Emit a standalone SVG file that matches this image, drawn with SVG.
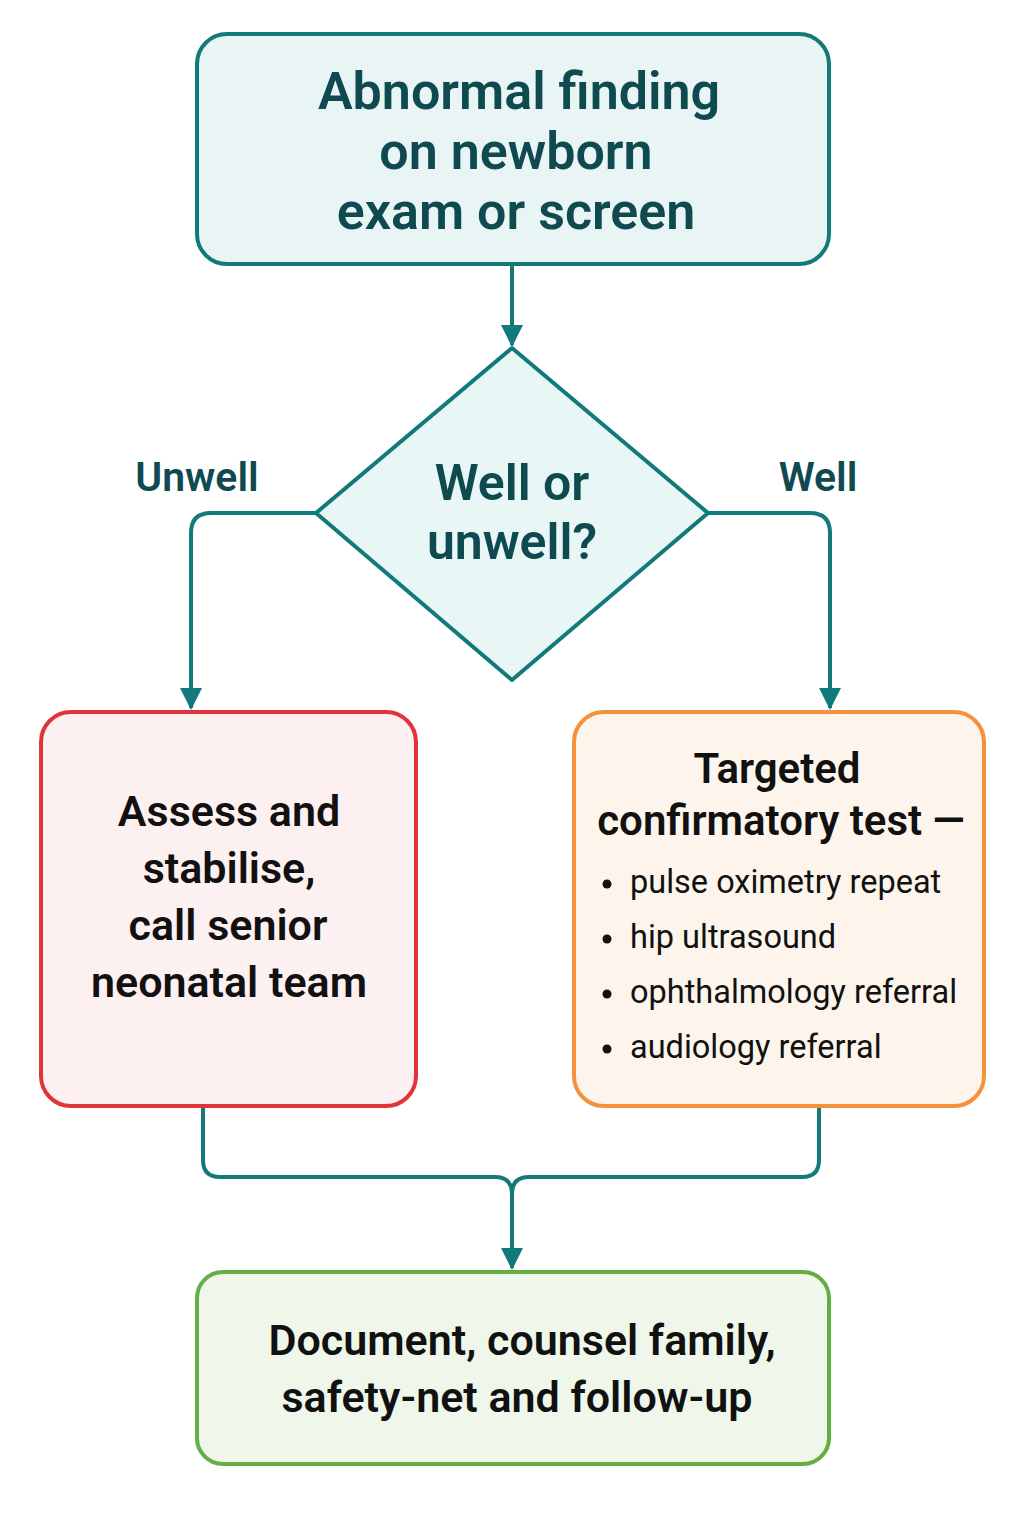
<svg xmlns="http://www.w3.org/2000/svg" width="1024" height="1536" viewBox="0 0 1024 1536">
<defs>
<marker id="ah" markerWidth="22" markerHeight="22" refX="20" refY="11" orient="auto" markerUnits="userSpaceOnUse">
<path d="M0,0 L22,11 L0,22 Z" fill="#137a7c"/>
</marker>
<style>
.conn{fill:none;stroke:#137a7c;stroke-width:4;stroke-linejoin:round}
.t{font-family:Roboto,"Liberation Sans",sans-serif;text-anchor:middle}
.h{font-weight:600;fill:#0f4a50}
.b{font-weight:600;fill:#111}
.l{font-weight:400;fill:#111;text-anchor:start}
</style>
</defs>
<rect width="1024" height="1536" fill="#ffffff"/>
<g id="connectors">
<path class="conn" d="M512,264 L512,345" marker-end="url(#ah)"/>
<path class="conn" d="M316,513 L211,513 Q191,513 191,533 L191,708" marker-end="url(#ah)"/>
<path class="conn" d="M708,513 L810,513 Q830,513 830,533 L830,708" marker-end="url(#ah)"/>
<path class="conn" d="M203,1106 L203,1160 Q203,1177 220,1177 L495,1177 Q512,1177 512,1194"/>
<path class="conn" d="M819,1106 L819,1160 Q819,1177 802,1177 L529,1177 Q512,1177 512,1194 L512,1268" marker-end="url(#ah)"/>
</g>
<g id="start">
<rect x="197" y="34" width="632" height="230" rx="30" fill="#e9f5f5" stroke="#137a7c" stroke-width="4"/>
<text class="t h" font-size="52" x="519" y="109">Abnormal finding</text>
<text class="t h" font-size="52" x="516" y="169">on newborn</text>
<text class="t h" font-size="52" x="516" y="229">exam or screen</text>
</g>
<g id="decision">
<polygon points="512,348 708,513 512,680 316,513" fill="#e8f6f6" stroke="#137a7c" stroke-width="4" stroke-linejoin="round"/>
<text class="t h" font-size="50" x="512" y="500">Well or</text>
<text class="t h" font-size="50" x="512" y="559">unwell?</text>
</g>
<g id="label-unwell">
<text class="t h" font-size="41" x="197" y="491">Unwell</text>
</g>
<g id="label-well">
<text class="t h" font-size="41" x="818" y="491">Well</text>
</g>
<g id="assess">
<rect x="41" y="712" width="375" height="394" rx="30" fill="#fdf0f1" stroke="#e0343a" stroke-width="4"/>
<text class="t b" font-size="43" x="229" y="826">Assess and</text>
<text class="t b" font-size="43" x="229" y="883">stabilise,</text>
<text class="t b" font-size="43" x="228" y="940">call senior</text>
<text class="t b" font-size="43" x="229" y="997">neonatal team</text>
</g>
<g id="targeted">
<rect x="574" y="712" width="410" height="394" rx="30" fill="#fdf5ec" stroke="#f3923a" stroke-width="4"/>
<text class="t b" font-size="42" x="777" y="783">Targeted</text>
<text class="t b" font-size="42" x="781" y="835">confirmatory test —</text>
<circle cx="607" cy="884" r="4.5" fill="#111"/>
<circle cx="607" cy="939" r="4.5" fill="#111"/>
<circle cx="607" cy="994" r="4.5" fill="#111"/>
<circle cx="607" cy="1049" r="4.5" fill="#111"/>
<text class="t l" font-size="32.5" x="630" y="893">pulse oximetry repeat</text>
<text class="t l" font-size="32.5" x="630" y="948">hip ultrasound</text>
<text class="t l" font-size="32.5" x="630" y="1003">ophthalmology referral</text>
<text class="t l" font-size="32.5" x="630" y="1058">audiology referral</text>
</g>
<g id="document">
<rect x="197" y="1272" width="632" height="192" rx="26" fill="#eef7e9" stroke="#65ad45" stroke-width="4"/>
<text class="t b" font-size="43" x="522" y="1355">Document, counsel family,</text>
<text class="t b" font-size="43" x="517" y="1412">safety-net and follow-up</text>
</g>
</svg>
